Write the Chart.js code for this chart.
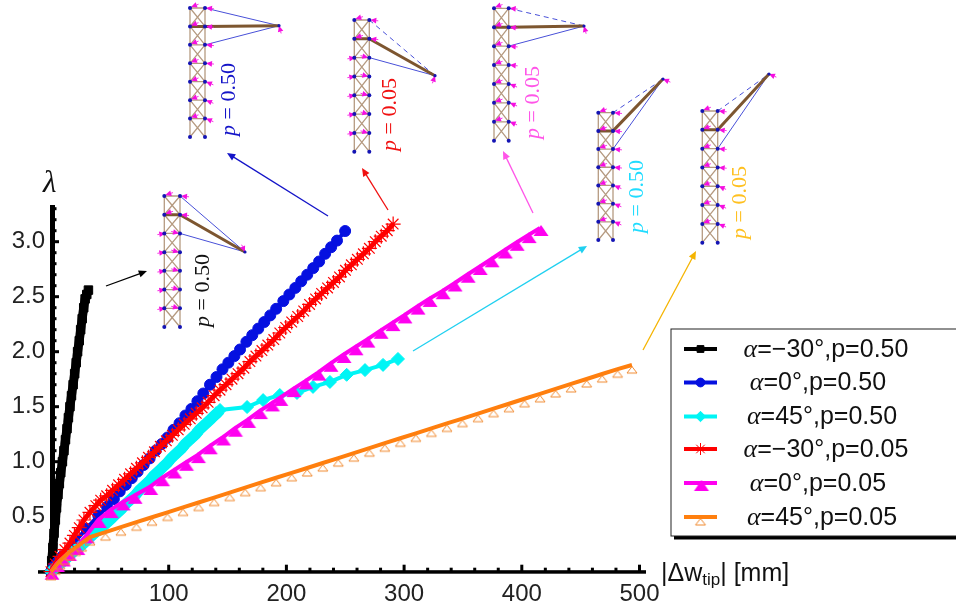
<!DOCTYPE html>
<html>
<head>
<meta charset="utf-8">
<title>Load factor vs tip displacement</title>
<script src="https://cdn.jsdelivr.net/npm/chart.js@4"></script>
<style>
  html, body { margin: 0; padding: 0; background: #fff; }
  canvas { display: block; }
</style>
</head>
<body>
<canvas id="chart" width="956" height="608"></canvas>
<script>
// values
const seriesLabels = ['α=−30°,p=0.50', 'α=0°,p=0.50', 'α=45°,p=0.50', 'α=−30°,p=0.05', 'α=0°,p=0.05', 'α=45°,p=0.05'];

const blackX = [0, 0.6, 1.6, 2.6, 3.7, 4.7, 5.9, 7.1, 8.3, 9.7, 11, 12.3, 13.6, 14.8, 16.1, 17.4, 18.8, 20.1, 21.4, 22.6, 24, 25.2, 26.5, 27.8, 29, 30.4, 31.8];
const blackY = [0, 0.1, 0.22, 0.35, 0.47, 0.58, 0.7, 0.8, 0.9, 1, 1.1, 1.2, 1.3, 1.4, 1.5, 1.6, 1.7, 1.8, 1.9, 2, 2.1, 2.2, 2.3, 2.4, 2.48, 2.52, 2.56];

const blueX = [0, 2.6, 5.7, 9.7, 19.9, 30, 40.2, 47.6, 53.4, 58.4, 63.5, 68.6, 73.6, 78.7, 83.8, 88.9, 94, 99, 104.1, 109.2, 114.2, 119.3, 124.4, 129.4, 135.1, 140.6, 145.7, 150.7, 155.8, 160.6, 166, 171, 176.1, 181.2, 186.3, 191.3, 197.4, 202.5, 207.6, 212.6, 217.7, 222.8, 227.8, 232.9, 238, 243, 249.9];
const blueY = [0, 0.05, 0.09, 0.14, 0.27, 0.39, 0.51, 0.59, 0.66, 0.73, 0.79, 0.85, 0.91, 0.97, 1.03, 1.1, 1.16, 1.22, 1.29, 1.35, 1.42, 1.48, 1.55, 1.62, 1.7, 1.77, 1.84, 1.9, 1.96, 2.02, 2.09, 2.15, 2.21, 2.27, 2.33, 2.39, 2.46, 2.52, 2.58, 2.64, 2.7, 2.76, 2.82, 2.89, 2.95, 3.01, 3.097];

const cyanX = [0, 3, 6, 9, 12, 15, 18, 21, 24, 27, 30, 33, 36, 39, 42, 45, 48, 51, 54, 57, 60, 63, 66, 69, 72, 75, 78, 81, 84, 87, 90, 93, 96, 99, 102, 105, 108, 111, 114, 117, 120, 123, 126, 129, 132, 135, 138, 141, 143.6, 166.6, 180.2, 194.4, 209, 222.6, 237, 251.2, 266.8, 282.1, 294.8];
const cyanY = [0, 0.03, 0.06, 0.08, 0.11, 0.14, 0.17, 0.2, 0.22, 0.25, 0.28, 0.31, 0.34, 0.37, 0.39, 0.42, 0.45, 0.48, 0.51, 0.54, 0.57, 0.61, 0.64, 0.67, 0.7, 0.74, 0.77, 0.8, 0.83, 0.87, 0.9, 0.93, 0.96, 0.99, 1.03, 1.06, 1.09, 1.12, 1.16, 1.19, 1.22, 1.25, 1.29, 1.32, 1.35, 1.38, 1.41, 1.44, 1.47, 1.497, 1.56, 1.606, 1.625, 1.68, 1.725, 1.79, 1.833, 1.88, 1.934];
const cyanKnee = 48; // points before this one are packed so tight they read as a thick band

const redX = [0, 3.7, 7.7, 11.8, 16.1, 19.9, 24, 28, 33.1, 38.1, 42.2, 47.3, 52.3, 57.4, 62.5, 67.6, 72.6, 77.7, 82.8, 87.9, 92.9, 98, 103.1, 108.1, 113.2, 118.3, 123.4, 128.4, 133.5, 138.6, 143.6, 148.7, 153.8, 158.9, 163.9, 169, 174.1, 179.2, 184.2, 189.3, 194.4, 199.4, 204.5, 209.6, 214.7, 219.7, 224.8, 229.9, 235, 240, 245.1, 250.2, 255.2, 260.3, 265.4, 270.5, 275.5, 280.6, 285.7, 290.7];
const redY = [0, 0.07, 0.14, 0.2, 0.26, 0.33, 0.4, 0.47, 0.54, 0.6, 0.65, 0.69, 0.74, 0.79, 0.84, 0.89, 0.94, 0.99, 1.04, 1.09, 1.14, 1.19, 1.24, 1.29, 1.34, 1.39, 1.44, 1.49, 1.54, 1.6, 1.65, 1.7, 1.75, 1.8, 1.85, 1.91, 1.96, 2.01, 2.06, 2.11, 2.17, 2.22, 2.27, 2.32, 2.37, 2.43, 2.48, 2.53, 2.58, 2.63, 2.68, 2.74, 2.79, 2.84, 2.89, 2.94, 3, 3.05, 3.1, 3.16];

const magentaX = [0, 4.7, 9.7, 14.8, 21.9, 30, 40.2, 50.3, 60.5, 70.6, 83.8, 93.9, 104.1, 114.2, 124.4, 134.5, 145.7, 155.8, 167, 177.1, 187.3, 194.4, 205.5, 215.7, 226.8, 237, 248.1, 258.3, 268.4, 279.6, 289.7, 299.9, 311, 321.2, 332.3, 342.5, 353.6, 363.8, 373.9, 385.1, 395.2, 405.4, 415.5];
const magentaY = [0, 0.07, 0.12, 0.17, 0.224, 0.33, 0.47, 0.56, 0.63, 0.69, 0.77, 0.85, 0.92, 0.99, 1.06, 1.14, 1.22, 1.3, 1.38, 1.46, 1.53, 1.58, 1.66, 1.73, 1.81, 1.89, 1.97, 2.04, 2.11, 2.19, 2.26, 2.33, 2.41, 2.48, 2.55, 2.62, 2.7, 2.77, 2.84, 2.92, 2.99, 3.06, 3.125];

const orangeX = [0, 3.7, 7.7, 11.8, 15.8, 20.9, 26, 33.1, 46.3, 59.4, 72.6, 85.8, 99, 112.2, 125.4, 138.6, 151.8, 165, 178.1, 191.3, 204.5, 217.7, 230.9, 244.1, 257.3, 270.5, 283.6, 296.8, 310, 323.2, 336.4, 349.6, 362.8, 376, 389.1, 402.3, 415.5, 428.7, 441.9, 455.1, 468.3, 481.4, 493.6];
const orangeY = [0, 0.05, 0.1, 0.14, 0.18, 0.22, 0.26, 0.315, 0.36, 0.405, 0.45, 0.495, 0.539, 0.584, 0.629, 0.674, 0.719, 0.764, 0.809, 0.854, 0.899, 0.943, 0.988, 1.033, 1.078, 1.123, 1.168, 1.213, 1.258, 1.303, 1.348, 1.392, 1.437, 1.482, 1.527, 1.572, 1.617, 1.662, 1.707, 1.752, 1.797, 1.841, 1.879];

const xTickStep = 20;
const yTickStep = 0.1;

function toPoints(xs, ys) {
    return xs.map((x, i) => ({ x: x, y: ys[i] }));
}

// triangle markers sit below the line in the original, so they get their own little canvas
function triangleMarker(color, filled, dx, dy, w, h) {
    const c = document.createElement('canvas');
    c.width = 28;
    c.height = 28;
    const g = c.getContext('2d');
    g.beginPath();
    g.moveTo(14 + dx, 14 + dy);
    g.lineTo(14 + dx + w / 2, 14 + dy + h);
    g.lineTo(14 + dx - w / 2, 14 + dy + h);
    g.closePath();
    if (filled) {
        g.fillStyle = color;
        g.fill();
    } else {
        g.strokeStyle = color;
        g.lineWidth = 1;
        g.stroke();
    }
    return c;
}

function makeDataset(i, xs, ys, color, lineWidth, pointStyle, radius, extra) {
    return Object.assign({
        label: seriesLabels[i],
        data: toPoints(xs, ys),
        showLine: true,
        borderColor: color,
        backgroundColor: color,
        pointBorderColor: color,
        pointBackgroundColor: color,
        borderWidth: lineWidth,
        pointStyle: pointStyle,
        pointRadius: radius,
        pointBorderWidth: 1,
        tension: 0,
        clip: false,
        order: 6 - i
    }, extra || {});
}

const datasets = [
    makeDataset(0, blackX, blackY, '#000000', 9, 'rect', 6),
    makeDataset(1, blueX, blueY, '#0510e0', 4, 'circle', 5.5),
    makeDataset(2, cyanX, cyanY, '#00f5f5', 4, 'rectRot', 6.5, {
        segment: { borderWidth: c => (c.p0DataIndex < cyanKnee ? 11 : 4) }
    }),
    makeDataset(3, redX, redY, '#ff0000', 5, 'star', 7.5, { pointBorderWidth: 1.2 }),
    makeDataset(4, magentaX, magentaY, '#ff00f0', 4, triangleMarker('#ff00f0', true, 1, -3, 15, 11), 6),
    makeDataset(5, orangeX, orangeY, '#ff7f0e', 4, triangleMarker('#f08a30', false, 0, 1.5, 10, 6.5), 6)
];

// axes are thick and the ticks point inwards, so draw them from the scales
const axesPlugin = {
    id: 'axes',
    beforeDatasetsDraw(chart) {
        const ctx = chart.ctx;
        const xs = chart.scales.x;
        const ys = chart.scales.y;
        const x0 = xs.getPixelForValue(0);
        const y0 = ys.getPixelForValue(0);
        ctx.save();
        ctx.fillStyle = '#000';
        ctx.fillRect(x0 - 1, 205, 5, y0 - 205 + 4);
        ctx.fillRect(38, y0 - 1.5, 646 - 38, 3.5);
        xs.ticks.forEach(t => {
            if (t.value === 0) return;
            const px = xs.getPixelForValue(t.value);
            const len = t.value % 100 === 0 ? 7 : 4;
            ctx.fillRect(px - 1.5, y0 - len, 3, len);
        });
        ys.ticks.forEach(t => {
            if (t.value < 0.05) return;
            const py = ys.getPixelForValue(t.value);
            const major = Math.round(t.value * 10) % 5 === 0;
            ctx.fillRect(x0 + 3, py - 1.5, major ? 5 : 2.5, 3);
        });
        ctx.restore();
    }
};

function drawArrow(ctx, x1, y1, x2, y2, color) {
    const a = Math.atan2(y2 - y1, x2 - x1);
    ctx.strokeStyle = color;
    ctx.fillStyle = color;
    ctx.lineWidth = 1.3;
    ctx.beginPath();
    ctx.moveTo(x1, y1);
    ctx.lineTo(x2 - 6 * Math.cos(a), y2 - 6 * Math.sin(a));
    ctx.stroke();
    ctx.beginPath();
    ctx.moveTo(x2, y2);
    ctx.lineTo(x2 - 9 * Math.cos(a - 0.42), y2 - 9 * Math.sin(a - 0.42));
    ctx.lineTo(x2 - 9 * Math.cos(a + 0.42), y2 - 9 * Math.sin(a + 0.42));
    ctx.closePath();
    ctx.fill();
}

function forceMark(ctx, x, y, angle) {
    ctx.save();
    ctx.translate(x, y);
    ctx.rotate(angle);
    ctx.fillStyle = '#f50fe0';
    ctx.beginPath();
    ctx.moveTo(0, 0);
    ctx.lineTo(6, -2.8);
    ctx.lineTo(6, 2.8);
    ctx.closePath();
    ctx.fill();
    ctx.strokeStyle = '#f50fe0';
    ctx.lineWidth = 0.8;
    ctx.beginPath();
    ctx.moveTo(6, 0);
    ctx.lineTo(8, 0);
    ctx.stroke();
    ctx.restore();
}

// one deformed tower sketch: left/right edges, top/bottom and the boom tip
function drawTower(ctx, t) {
    const levels = 7;
    const ly = i => t.top + (t.bottom - t.top) * i / levels;
    ctx.lineCap = 'butt';
    ctx.setLineDash([]);
    ctx.strokeStyle = '#b59a80';
    ctx.lineWidth = 1.3;
    ctx.beginPath();
    ctx.moveTo(t.left, t.top); ctx.lineTo(t.left, t.bottom);
    ctx.moveTo(t.right, t.top); ctx.lineTo(t.right, t.bottom);
    for (let i = 0; i < levels; i++) {
        ctx.moveTo(t.left, ly(i)); ctx.lineTo(t.right, ly(i));
        ctx.moveTo(t.left, ly(i)); ctx.lineTo(t.right, ly(i + 1));
        ctx.moveTo(t.right, ly(i)); ctx.lineTo(t.left, ly(i + 1));
    }
    ctx.stroke();

    // cables
    ctx.strokeStyle = '#4850d8';
    ctx.lineWidth = 1;
    ctx.beginPath();
    if (t.dashed) ctx.setLineDash([5, 4]);
    ctx.moveTo(t.right, ly(0)); ctx.lineTo(t.tip[0], t.tip[1]);
    ctx.stroke();
    ctx.setLineDash([]);
    ctx.beginPath();
    ctx.moveTo(t.right, ly(2)); ctx.lineTo(t.tip[0], t.tip[1]);
    ctx.stroke();

    // boom
    ctx.strokeStyle = '#7d5630';
    ctx.lineWidth = 3;
    ctx.beginPath();
    ctx.moveTo(t.left - 1, ly(1));
    ctx.lineTo(t.right, ly(1));
    ctx.lineTo(t.tip[0], t.tip[1]);
    ctx.stroke();

    // loads and nodes
    for (let i = 0; i < levels; i++) {
        if (t.leftOutside && i >= 2) {
            forceMark(ctx, t.left + 1, ly(i), Math.PI - 0.15);
            forceMark(ctx, t.right - 1, ly(i), Math.PI + 0.25);
        } else {
            forceMark(ctx, t.left + 1, ly(i) - 1, t.leftAngle);
            forceMark(ctx, t.right + 1, ly(i), i > 3 ? 0.4 : 0.1);
        }
    }
    forceMark(ctx, t.tip[0], t.tip[1], t.tipAngle);
    ctx.fillStyle = '#1414b4';
    for (let i = 0; i <= levels; i++) {
        [t.left, t.right].forEach(x => {
            ctx.beginPath();
            ctx.arc(x, ly(i), 2, 0, Math.PI * 2);
            ctx.fill();
        });
    }
    ctx.beginPath();
    ctx.arc(t.tip[0], t.tip[1], 1.6, 0, Math.PI * 2);
    ctx.fill();

    // p label, reads upwards
    ctx.save();
    ctx.translate(t.labelX, t.labelY);
    ctx.rotate(-Math.PI / 2);
    ctx.fillStyle = t.color;
    ctx.textBaseline = 'middle';
    ctx.textAlign = 'left';
    ctx.font = 'italic 22px "Liberation Serif"';
    const pw = ctx.measureText('p').width;
    ctx.fillText('p', -36, 0);
    ctx.font = '22px "Liberation Serif"';
    ctx.fillText(' = ' + t.text, -36 + pw, 0);
    ctx.restore();
}

const towers = [
    { left: 164.3, right: 180, top: 196, bottom: 327, tip: [245, 252], dashed: false, leftOutside: true, leftAngle: -0.3, tipAngle: -2, labelX: 203, labelY: 291, text: '0.50', color: '#111111' },
    { left: 190, right: 205, top: 8, bottom: 137, tip: [279, 25.7], dashed: false, leftAngle: -0.35, tipAngle: 1.3, labelX: 229, labelY: 100, text: '0.50', color: '#1414c8' },
    { left: 354.3, right: 369.3, top: 20, bottom: 151.7, tip: [435, 75.7], dashed: true, leftOutside: true, leftAngle: -0.3, tipAngle: 1.9, labelX: 390, labelY: 115, text: '0.05', color: '#f01010' },
    { left: 494, right: 508.7, top: 8.3, bottom: 140.7, tip: [584, 26], dashed: true, leftAngle: -0.35, tipAngle: 1.3, labelX: 533, labelY: 103, text: '0.05', color: '#ff55e8' },
    { left: 598.3, right: 613, top: 112.7, bottom: 240, tip: [663, 79], dashed: true, leftAngle: -0.35, tipAngle: 0.4, labelX: 637, labelY: 197, text: '0.50', color: '#20dcff' },
    { left: 702.3, right: 717.7, top: 111, bottom: 242.7, tip: [769, 74], dashed: true, leftAngle: -0.35, tipAngle: 0.4, labelX: 740, labelY: 203, text: '0.05', color: '#ffc020' }
];

const arrows = [
    [106, 286, 147, 271, '#000000'],
    [328, 216, 227, 153, '#1414c8'],
    [388, 210, 362, 168, '#f01010'],
    [533, 213, 503, 151, '#ff55e8'],
    [413, 351, 587, 246, '#20d0f0'],
    [643, 350, 696, 251, '#f5b400']
];

const annotationsPlugin = {
    id: 'annotations',
    afterDatasetsDraw(chart) {
        const ctx = chart.ctx;
        ctx.save();
        towers.forEach(t => drawTower(ctx, t));
        arrows.forEach(a => drawArrow(ctx, a[0], a[1], a[2], a[3], a[4]));

        // axis names
        ctx.fillStyle = '#111';
        ctx.textBaseline = 'alphabetic';
        ctx.textAlign = 'left';
        ctx.font = 'italic 31px "Liberation Serif"';
        ctx.fillText('λ', 43, 192);
        ctx.font = '25px "Liberation Sans"';
        ctx.fillText('|Δw', 661, 581);
        let w = ctx.measureText('|Δw').width;
        ctx.font = '17px "Liberation Sans"';
        ctx.fillText('tip', 661 + w, 585);
        w += ctx.measureText('tip').width;
        ctx.font = '25px "Liberation Sans"';
        ctx.fillText('| [mm]', 661 + w, 581);
        ctx.restore();
    }
};

// legend has line + marker samples and a drop shadow, chart.js legend can't do that
const legendPlugin = {
    id: 'customLegend',
    afterDraw(chart) {
        const ctx = chart.ctx;
        const rowY = [349, 382.5, 416.5, 449, 483, 517];
        const centers = [826, 818, 822, 826, 818, 822];
        ctx.save();
        ctx.fillStyle = '#000';
        ctx.fillRect(674, 536, 282, 3.5);
        ctx.fillStyle = '#fff';
        ctx.fillRect(671, 329, 285, 207);
        ctx.strokeStyle = '#222';
        ctx.lineWidth = 1;
        ctx.strokeRect(671, 329, 290, 207);
        chart.data.datasets.forEach((ds, i) => {
            const y = rowY[i];
            ctx.strokeStyle = ds.borderColor;
            ctx.lineWidth = 4;
            ctx.beginPath();
            ctx.moveTo(684, y);
            ctx.lineTo(717, y);
            ctx.stroke();
            ctx.fillStyle = ds.pointBackgroundColor;
            ctx.lineWidth = 1;
            Chart.helpers.drawPoint(ctx, {
                pointStyle: ds.pointStyle,
                radius: ds.pointRadius * 0.8,
                borderWidth: 1,
                rotation: 0
            }, 700.5, y);
            const rest = ds.label.slice(1);
            ctx.fillStyle = '#111';
            ctx.textBaseline = 'middle';
            ctx.textAlign = 'left';
            ctx.font = 'italic 26px "Liberation Serif"';
            const aw = ctx.measureText('α').width;
            ctx.font = '25px "Liberation Sans"';
            const rw = ctx.measureText(rest).width;
            const x = centers[i] - (aw + rw) / 2;
            ctx.fillText(rest, x + aw, y + 1);
            ctx.font = 'italic 26px "Liberation Serif"';
            ctx.fillText('α', x, y + 1);
        });
        ctx.restore();
    }
};

new Chart(document.getElementById('chart'), {
    type: 'scatter',
    data: { datasets: datasets },
    plugins: [axesPlugin, annotationsPlugin, legendPlugin],
    options: {
        responsive: false,
        animation: false,
        layout: { padding: { left: 0, top: 208.7, right: 316.5, bottom: 0 } },
        plugins: { legend: { display: false }, tooltip: { enabled: false } },
        scales: {
            x: {
                type: 'linear',
                min: 0,
                max: 500,
                grid: { display: false, drawTicks: false },
                border: { display: false },
                afterFit(scale) { scale.height = 36.3; },
                ticks: {
                    stepSize: xTickStep,
                    autoSkip: false,
                    maxRotation: 0,
                    includeBounds: false,
                    padding: 8,
                    color: '#222',
                    font: { family: '"Liberation Sans"', size: 24 },
                    callback: v => (v > 0 && v % 100 === 0 ? String(v) : '')
                }
            },
            y: {
                type: 'linear',
                min: 0,
                max: 3.3,
                grid: { display: false, drawTicks: false },
                border: { display: false },
                afterFit(scale) { scale.width = 51; },
                ticks: {
                    stepSize: yTickStep,
                    autoSkip: false,
                    includeBounds: false,
                    padding: 6,
                    color: '#222',
                    font: { family: '"Liberation Sans"', size: 24 },
                    callback: v => (v > 0.05 && Math.round(v * 10) % 5 === 0 ? v.toFixed(1) : '')
                }
            }
        }
    }
});
</script>
</body>
</html>
